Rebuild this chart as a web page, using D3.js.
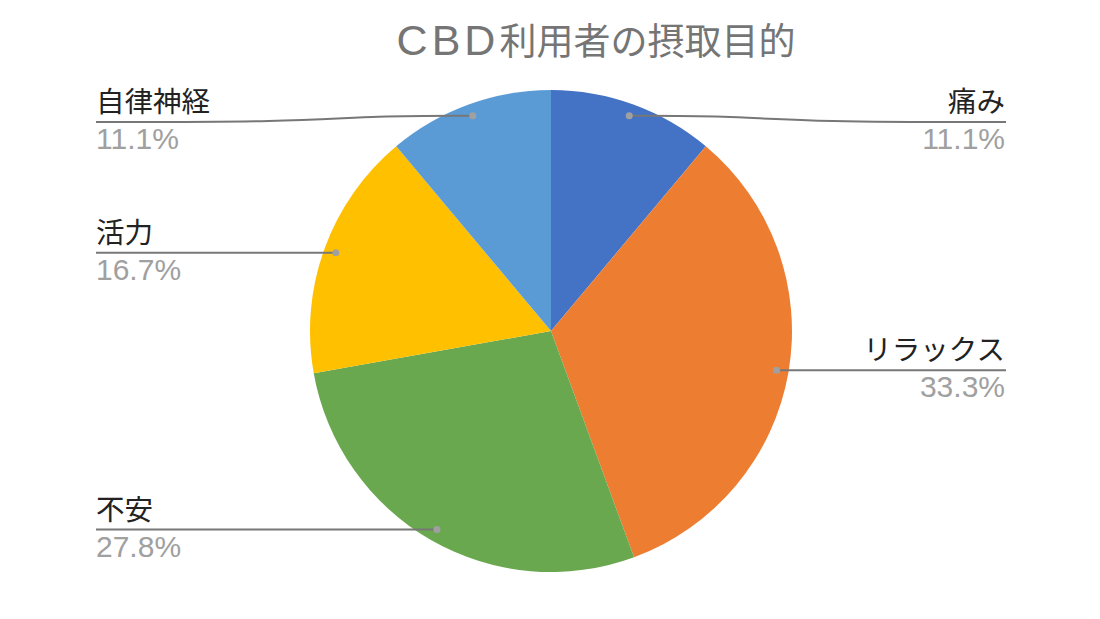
<!DOCTYPE html>
<html>
<head>
<meta charset="utf-8">
<script src="https://cdn.jsdelivr.net/npm/d3@7"></script>
<style>
  body { margin: 0; background: #fff; }
  text { font-family: "Liberation Sans", "Noto Sans CJK JP", sans-serif; }
</style>
</head>
<body>
<div id="chart"></div>
<script>
// Data
const titleLatin = "CBD";
const titleRest = "利用者の摂取目的";
const categories = ["痛み", "リラックス", "不安", "活力", "自律神経"];
const values = [11.1, 33.3, 27.8, 16.7, 11.1];
const colors = ["#4472c4", "#ed7d31", "#6aa84f", "#ffc000", "#5b9bd5"];

// The SVG dimensions
const width = 1100, height = 619;
const cx = 551, cy = 331, radius = 241;
const leftX = 96, rightX = 1006, minLineY = 122;

const svg = d3.select("#chart")
  .append("svg")
  .attr("width", width)
  .attr("height", height);

// Title (latin part is a bit wider in the original)
const title = svg.append("text")
  .attr("x", 596)
  .attr("y", 55)
  .attr("text-anchor", "middle")
  .style("fill", "#757575");
title.append("tspan")
  .style("font-size", "43px")
  .style("letter-spacing", "4px")
  .text(titleLatin);
title.append("tspan")
  .style("font-size", "37px")
  .style("font-family", "'Noto Sans CJK JP', sans-serif")
  .text(titleRest);

const data = categories.map((c, i) => ({name: c, value: values[i], color: colors[i]}));

const pie = d3.pie().sort(null).value(d => d.value);
const arc = d3.arc().innerRadius(0).outerRadius(radius);
const dotArc = d3.arc().innerRadius(radius * 0.95).outerRadius(radius * 0.95);

const g = svg.append("g").attr("transform", `translate(${cx},${cy})`);
const arcs = pie(data);

// Draw slices
g.selectAll("path.slice")
  .data(arcs)
  .enter()
  .append("path")
  .attr("class", "slice")
  .attr("d", arc)
  .attr("fill", d => d.data.color);

// Leader lines and labels
const curve = d3.line().curve(d3.curveBasis);

arcs.forEach(d => {
  const [dx, dy] = dotArc.centroid(d);
  const px = cx + dx, py = cy + dy;
  const right = (d.startAngle + d.endAngle) / 2 < Math.PI;
  const lineY = Math.max(py, minLineY);
  const endX = right ? rightX : leftX;
  const elbowX = px + (endX - px) * 0.5;

  svg.append("path")
    .attr("d", curve([[px, py], [px + (elbowX - px) * 0.5, py], [elbowX, lineY], [endX, lineY]]))
    .attr("fill", "none")
    .attr("stroke", "#777")
    .attr("stroke-width", 2);

  svg.append("circle")
    .attr("cx", px)
    .attr("cy", py)
    .attr("r", 3.5)
    .attr("fill", "#a0a0a0");

  svg.append("text")
    .attr("x", right ? rightX - 1 : leftX)
    .attr("y", lineY - 10)
    .attr("text-anchor", right ? "end" : "start")
    .style("font-size", "28.5px")
    .style("font-family", "'Noto Sans CJK JP', sans-serif")
    .style("fill", "#222")
    .text(d.data.name);

  svg.append("text")
    .attr("x", right ? rightX - 1 : leftX)
    .attr("y", lineY + 27)
    .attr("text-anchor", right ? "end" : "start")
    .style("font-size", "30px")
    .style("fill", "#a0a0a0")
    .text(d.data.value.toFixed(1) + "%");
});
</script>
</body>
</html>
